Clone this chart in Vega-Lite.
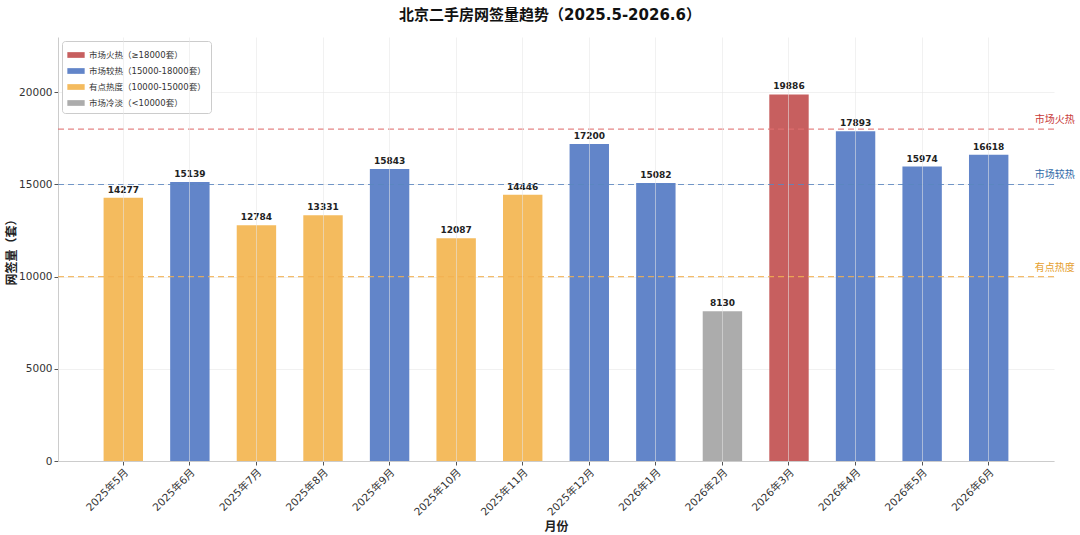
{
  "$schema": "https://vega.github.io/schema/vega-lite/v6.json",
  "autosize": "none",
  "width": 996,
  "height": 424,
  "padding": {"left": 58, "top": 37, "right": 26, "bottom": 74},
  "background": "white",
  "config": {
    "font": "DejaVu Sans, Noto Sans CJK SC",
    "view": {"stroke": null},
    "axis": {"labelFont": "DejaVu Sans, Noto Sans CJK SC", "titleFont": "DejaVu Sans, Noto Sans CJK SC"}
  },
  "title": {
    "text": "北京二手房网签量趋势（2025.5-2026.6）",
    "fontSize": 15,
    "fontWeight": "bold",
    "color": "#111",
    "offset": 14,
    "dx": -6
  },
  "datasets": {
    "bars": [
      {"month": "2025年5月", "value": 14277, "level": "有点热度（10000-15000套）"},
      {"month": "2025年6月", "value": 15139, "level": "市场较热（15000-18000套）"},
      {"month": "2025年7月", "value": 12784, "level": "有点热度（10000-15000套）"},
      {"month": "2025年8月", "value": 13331, "level": "有点热度（10000-15000套）"},
      {"month": "2025年9月", "value": 15843, "level": "市场较热（15000-18000套）"},
      {"month": "2025年10月", "value": 12087, "level": "有点热度（10000-15000套）"},
      {"month": "2025年11月", "value": 14446, "level": "有点热度（10000-15000套）"},
      {"month": "2025年12月", "value": 17200, "level": "市场较热（15000-18000套）"},
      {"month": "2026年1月", "value": 15082, "level": "市场较热（15000-18000套）"},
      {"month": "2026年2月", "value": 8130, "level": "市场冷淡（<10000套）"},
      {"month": "2026年3月", "value": 19886, "level": "市场火热（≥18000套）"},
      {"month": "2026年4月", "value": 17893, "level": "市场较热（15000-18000套）"},
      {"month": "2026年5月", "value": 15974, "level": "市场较热（15000-18000套）"},
      {"month": "2026年6月", "value": 16618, "level": "市场较热（15000-18000套）"}
    ],
    "thresholds": [
      {"threshold": 18000, "name": "市场火热", "anchor": "2026年6月"},
      {"threshold": 15000, "name": "市场较热", "anchor": "2026年6月"},
      {"threshold": 10000, "name": "有点热度", "anchor": "2026年6月"}
    ]
  },
  "layer": [
    {
      "data": {"name": "bars"},
      "mark": {"type": "bar", "opacity": 0.95},
      "encoding": {
        "x": {
          "field": "month", "type": "nominal", "sort": null,
          "scale": {"paddingInner": 0.408, "paddingOuter": 0.685},
          "axis": {
            "title": "月份", "titleFontSize": 12, "titleFontWeight": "bold", "titleColor": "#222", "titlePadding": 4,
            "labelAngle": -45, "labelAlign": "right", "labelBaseline": "top", "labelFontSize": 10.5, "labelColor": "#333",
            "domainColor": "#cccccc", "tickColor": "#555", "tickSize": 4,
            "grid": true, "gridColor": "#e6e6e6", "gridOpacity": 0.55, "gridWidth": 1, "zindex": 1
          }
        },
        "y": {
          "field": "value", "type": "quantitative",
          "scale": {"domain": [0, 23000], "nice": false},
          "axis": {
            "title": "网签量（套）", "titleFontSize": 12, "titleFontWeight": "bold", "titleColor": "#222", "titlePadding": 0,
            "values": [0, 5000, 10000, 15000, 20000], "format": "d",
            "labelFontSize": 10.5, "labelColor": "#333",
            "domainColor": "#cccccc", "tickColor": "#555", "tickSize": 4,
            "grid": true, "gridColor": "#eeeeee", "gridWidth": 0.8
          }
        },
        "color": {
          "field": "level", "type": "nominal",
          "scale": {
            "domain": ["市场火热（≥18000套）", "市场较热（15000-18000套）", "有点热度（10000-15000套）", "市场冷淡（<10000套）"],
            "range": ["#C45656", "#5A7EC6", "#F3B755", "#A8A8A8"]
          },
          "legend": {
            "title": null, "orient": "top-left", "offset": 4,
            "symbolType": "M-1,-0.33H1V0.33H-1Z", "symbolSize": 300, "symbolStrokeWidth": 0,
            "labelFontSize": 8.5, "labelColor": "#333", "rowPadding": 2,
            "fillColor": "white", "strokeColor": "#cccccc", "cornerRadius": 3, "padding": 5
          }
        }
      }
    },
    {
      "data": {"name": "bars"},
      "mark": {"type": "text", "dy": -8, "fontSize": 9, "fontWeight": "bold", "color": "#222", "font": "DejaVu Sans"},
      "encoding": {
        "x": {"field": "month", "type": "nominal", "sort": null},
        "y": {"field": "value", "type": "quantitative"},
        "text": {"field": "value", "type": "quantitative", "format": "d"}
      }
    },
    {
      "data": {"name": "thresholds"},
      "mark": {"type": "rule", "strokeDash": [6, 4], "strokeWidth": 1.2, "opacity": 0.85},
      "encoding": {
        "y": {"field": "threshold", "type": "quantitative"},
        "color": {
          "field": "name", "type": "nominal",
          "scale": {"domain": ["市场火热", "市场较热", "有点热度"], "range": ["#E07070", "#5A86C0", "#F2B050"]},
          "legend": null
        }
      }
    },
    {
      "data": {"name": "thresholds"},
      "mark": {"type": "text", "align": "right", "dx": 86, "dy": -9, "fontSize": 10},
      "encoding": {
        "x": {"field": "anchor", "type": "nominal", "sort": null},
        "y": {"field": "threshold", "type": "quantitative"},
        "text": {"field": "name"},
        "color": {
          "field": "name", "type": "nominal",
          "scale": {"domain": ["市场火热", "市场较热", "有点热度"], "range": ["#C83A3A", "#2F6AA8", "#E5A02E"]},
          "legend": null
        }
      }
    }
  ],
  "resolve": {"scale": {"color": "independent"}}
}
